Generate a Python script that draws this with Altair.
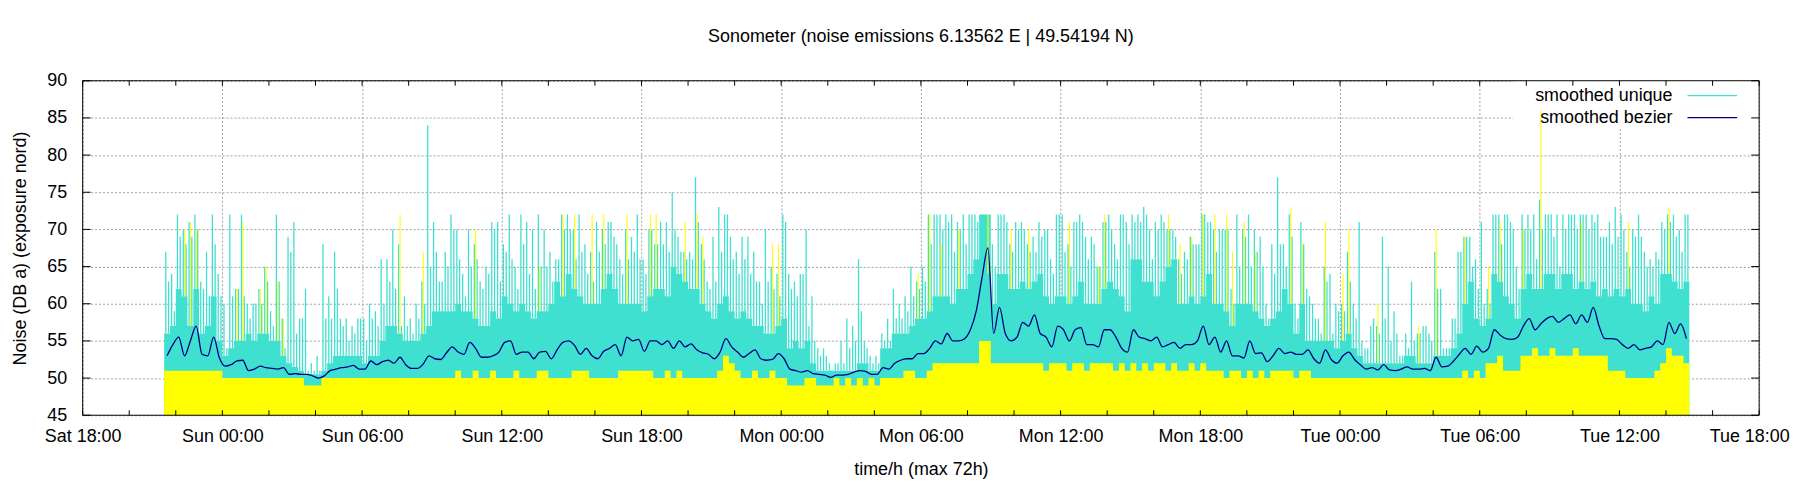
import json

import altair as alt
import pandas as pd

FONT = "Liberation Sans"
TURQUOISE = "#40e0d0"
YELLOW = "#ffff00"
NAVY = "#000080"

# hours after Sat 18:00, readings binned per 15 minutes from Sat 21:30 on
START_H = 3.5
STEP_H = 0.25

X_TICKS = [0, 6, 12, 18, 24, 30, 36, 42, 48, 54, 60, 66, 72]
X_LABELS = ["Sat 18:00", "Sun 00:00", "Sun 06:00", "Sun 12:00", "Sun 18:00",
            "Mon 00:00", "Mon 06:00", "Mon 12:00", "Mon 18:00",
            "Tue 00:00", "Tue 06:00", "Tue 12:00", "Tue 18:00"]
X_SMALL_TICKS = list(range(0, 73, 2))
Y_TICKS = [45, 50, 55, 60, 65, 70, 75, 80, 85, 90]

# smoothed unique: tallest impulse in each bin
unique_peak = [
    67, 64, 72, 70, 71, 72, 63, 67, 72, 64,
    60, 72, 62, 72, 60, 60, 62, 65, 59, 72, 58, 69, 71, 58, 62, 52, 53, 68, 61, 67, 58, 58, 57, 58,
    58, 60, 59, 66, 66, 70, 68, 61, 58, 60, 63, 84, 71, 63, 67, 72, 70, 64, 70, 68, 63, 65, 71, 71,
    68, 72, 65, 72, 71, 70, 72, 70, 67, 66, 72, 72, 70, 72, 68, 67, 71, 70, 71, 69, 66, 70, 69, 72,
    66, 70, 68, 71, 71, 75, 69, 67, 67, 77, 68, 63, 69, 73, 72, 69, 67, 69, 69, 67, 63, 70, 65, 64,
    72, 64, 63, 64, 70, 61, 54, 54, 52, 52, 55, 58, 57, 66, 55, 53, 53, 56, 58, 62, 60, 61, 65, 63,
    65, 72, 72, 72, 72, 72, 71, 72, 72, 72, 72, 72, 68, 72, 72, 68, 71, 71, 68, 69, 71, 70, 66, 72,
    72, 68, 71, 72, 69, 69, 65, 71, 72, 68, 72, 71, 72, 72, 73, 70, 71, 72, 70, 70, 66, 67, 69, 68,
    72, 71, 70, 70, 70, 62, 72, 70, 72, 70, 69, 60, 68, 77, 68, 72, 60, 71, 62, 60, 58, 65, 64, 60,
    60, 67, 60, 71, 54, 57, 57, 69, 65, 59, 53, 56, 63, 56, 57, 56, 67, 62, 54, 58, 67, 69, 69, 66,
    71, 62, 72, 72, 72, 71, 65, 72, 72, 72, 74, 72, 72, 72, 72, 72, 72, 72, 72, 72, 72, 69, 71, 73,
    72, 67, 70, 72, 67, 66, 67, 71, 72, 72, 70, 72,
]

# smoothed unique: next tallest impulse in each bin
unique_mid = [
    63, 59, 69, 68, 69, 70, 62, 61, 68, 61,
    54, 61, 62, 61, 58, 60, 60, 63, 57, 63, 54, 67, 56, 58, 51, 51, 51, 58, 58, 62, 57, 55, 56, 58,
    55, 58, 57, 60, 63, 62, 57, 57, 56, 58, 60, 65, 67, 63, 65, 70, 66, 61, 65, 66, 62, 64, 70, 63,
    67, 66, 62, 68, 64, 62, 65, 65, 63, 66, 70, 70, 66, 67, 64, 63, 67, 68, 71, 68, 64, 66, 67, 66,
    64, 70, 68, 68, 67, 70, 67, 66, 66, 71, 66, 62, 63, 67, 72, 66, 64, 66, 64, 63, 60, 63, 62, 61,
    71, 62, 61, 64, 57, 55, 53, 53, 51, 52, 52, 54, 55, 59, 54, 52, 52, 55, 55, 58, 58, 59, 61, 62,
    63, 68, 72, 70, 71, 67, 70, 68, 72, 71, 72, 72, 65, 72, 71, 67, 70, 70, 67, 67, 69, 70, 64, 72,
    67, 65, 71, 71, 66, 68, 65, 71, 70, 66, 72, 68, 71, 71, 72, 66, 70, 71, 70, 69, 64, 66, 68, 68,
    72, 71, 67, 70, 70, 60, 65, 69, 65, 67, 65, 58, 64, 68, 65, 69, 58, 68, 61, 58, 56, 63, 56, 59,
    59, 63, 58, 55, 54, 58, 56, 58, 55, 56, 53, 54, 55, 56, 57, 55, 62, 54, 54, 58, 67, 69, 65, 62,
    60, 60, 72, 68, 72, 70, 62, 70, 70, 66, 70, 72, 69, 65, 70, 72, 70, 72, 70, 71, 69, 69, 68, 69,
    70, 65, 69, 69, 65, 65, 66, 70, 71, 69, 67, 72,
]

# smoothed unique: level the impulses fill solidly
unique_fill = [
    56, 57, 62, 61, 57, 62, 56, 57, 61, 55,
    53, 54, 55, 55, 56, 55, 56, 56, 55, 55, 53, 52, 51.5, 51, 50.5, 50.5, 50.5, 51, 52, 53, 53, 53, 53, 53,
    52, 53, 53, 55, 57, 57, 56, 55, 55, 55, 56, 57, 59, 59, 59, 59, 60, 59, 59, 58, 57, 57, 59, 58,
    61, 60, 59, 60, 59, 58, 59, 59, 60, 63, 61, 64, 62, 61, 60, 60, 60, 62, 64, 62, 60, 60, 60, 60,
    59, 61, 62, 62, 61, 65, 64, 63, 62, 62, 60, 59, 58, 60, 61, 59, 58, 59, 58, 57, 57, 56, 56, 57,
    58, 54, 55, 54, 55, 52, 51, 51, 51, 51, 51, 51, 51, 52, 52, 51, 51, 54, 54, 56, 56, 56, 57, 58,
    58, 59, 61, 61, 61, 60, 62, 62, 64, 66, 72, 72, 60, 64, 64, 62, 62, 63, 62, 63, 64, 61, 60, 61,
    61, 60, 61, 63, 60, 60, 60, 62, 63, 62, 61, 59, 66, 66, 63, 63, 61, 63, 65, 66, 60, 60, 61, 60,
    61, 64, 60, 60, 59, 57, 60, 60, 60, 59, 58, 57, 58, 59, 62, 60, 56, 60, 55, 55, 55, 55, 55, 54,
    55, 56, 54, 53, 52, 52, 52, 52, 52, 52, 52, 53, 53, 52, 52, 52, 53, 53, 53, 54, 56, 60, 63, 58,
    57, 58, 64, 63, 61, 60, 58, 62, 64, 62, 62, 64, 64, 62, 64, 64, 62, 63, 62, 63, 61, 62, 61, 62,
    61, 62, 60, 60, 59, 61, 60, 64, 64, 63, 62, 63,
]

# raw readings (yellow): floor level per bin
raw_floor = [
    51, 51, 51, 51, 51, 51, 51, 51, 51, 51,
    50, 50, 50, 50, 50, 50, 50, 50, 50, 50, 50, 50, 50, 50, 49, 49, 49, 50, 50, 50, 50, 50, 50, 50,
    50, 50, 50, 50, 50, 50, 50, 50, 50, 50, 50, 50, 50, 50, 50, 50, 51, 50, 50, 51, 50, 50, 51, 50,
    50, 50, 51, 50, 50, 50, 51, 51, 50, 50, 50, 50, 51, 51, 51, 50, 50, 50, 50, 50, 51, 51, 51, 51,
    51, 51, 50, 50, 51, 50, 51, 50, 50, 50, 50, 50, 50, 51, 53, 52, 51, 50, 50, 51, 50, 50, 51, 50,
    50, 49, 49, 49, 50, 50, 49, 49, 49, 50, 49, 50, 49, 50, 49, 50, 49, 50, 50, 50, 50, 51, 51, 50,
    50, 51, 52, 52, 52, 52, 52, 52, 52, 52, 55, 55, 52, 52, 52, 52, 52, 52, 52, 52, 52, 51, 52, 52,
    52, 51, 52, 52, 51, 52, 52, 52, 52, 51, 52, 51, 52, 51, 52, 51, 52, 52, 51, 52, 51, 51, 52, 51,
    52, 51, 51, 51, 50, 51, 51, 50, 51, 50, 51, 50, 51, 51, 51, 51, 50, 51, 51, 50, 50, 50, 50, 50,
    50, 50, 50, 50, 50, 50, 50, 50, 50, 50, 50, 50, 50, 50, 50, 50, 50, 50, 50, 50, 50, 51, 50, 51,
    50, 52, 52, 53, 51, 51, 51, 53, 53, 54, 53, 53, 54, 53, 53, 53, 54, 53, 53, 53, 53, 53, 51, 51,
    51, 50, 50, 50, 50, 50, 51, 52, 54, 53, 53, 52,
]

# raw readings standing out above the turquoise: bin number and level
raw_tip_bin = [3, 4, 5, 12, 13, 16, 17, 19, 20, 40, 44, 53, 64, 68, 70, 73, 75, 79,
               83, 84, 89, 91, 92, 104, 105, 129, 131, 133, 136, 141, 145, 148,
               155, 160, 161, 172, 174, 176, 178, 180, 182, 183, 185, 187, 193, 195, 199,
               202, 203, 208, 215, 218, 223, 227, 229, 233, 236, 243, 251, 258]
raw_tip_db = [70, 71, 70, 62, 71, 62, 65, 63, 58, 72, 67, 70, 65, 72, 72, 72, 72, 72,
              72, 72, 71, 72, 69, 68, 68, 64, 72, 68, 70, 64, 70, 70,
              71, 65, 72, 72, 68, 69, 72, 72, 72, 67, 71, 67, 73, 68, 71,
              64, 70, 60, 57, 70, 69, 65, 71, 70, 86, 71, 71, 73]

# smoothed bezier
bezier = [
    53, 54.5, 55.5, 53, 55, 57, 53.2, 53, 55.5, 52.7,
    51.6, 51.8, 52.3, 52.4, 51, 51.2, 51.6, 51.4, 51.3, 51.2, 51.4, 50.5, 50.6, 50.5, 50.5, 50.3, 50, 50.3, 51, 51.2, 51.4, 51.5, 51.7, 51.2,
    51.2, 52.3, 51.8, 52.2, 52.4, 52, 52.8, 51.8, 51.3, 51.3, 51.9, 53, 52.6, 52.5, 53.4, 54.2, 53.5, 53.2, 54.8, 54, 52.8, 52.8, 53, 53.5,
    54.8, 55, 53.2, 53.5, 53.5, 52.6, 53.5, 53.6, 52.6, 53.8, 54.8, 55, 54.4, 53.2, 54, 53, 52.6, 53.6, 54, 54.5, 53, 55.5, 55, 55.2,
    53.6, 55, 55, 54.5, 55, 54, 55, 54.2, 54.6, 53.8, 53.4, 53.2, 52.6, 53.5, 55.3, 54.2, 53.5, 52.8, 53.3, 53.8, 52.6, 52.4, 52.5, 53.3,
    52.6, 51.2, 51, 50.8, 51, 50.6, 50.5, 50.4, 50.1, 50.4, 50.4, 50.5, 50.8, 51, 50.9, 50.5, 50.5, 51.4, 51.2, 52, 52.4, 52.6, 52.6, 53.3,
    53.3, 54, 55, 54.6, 56, 55, 55, 55.3, 56.5, 59, 63.5, 67.5, 56, 59.5, 56, 55, 55.5, 57.5, 57, 58.5, 56, 55.5, 54.2, 57,
    56.5, 55, 56.5, 56.8, 54.5, 54.5, 54.2, 56.5, 56.5, 55.5, 54, 53.5, 56.5, 55.5, 55.3, 55, 55.5, 54.2, 54.5, 54.8, 54, 54.5, 54.5, 55,
    57, 54.5, 55.5, 53.5, 55, 53, 53, 52.7, 55, 53.3, 53.4, 52.2, 53, 54, 53.3, 53.5, 53.2, 53.2, 53.8, 52.6, 52, 53.8, 52.5, 52,
    53, 53.5, 52.5, 51.8, 51.2, 51.4, 51.1, 51.8, 51.1, 51, 51.2, 51.5, 51.2, 51.2, 51.3, 51, 52.8, 51.5, 51.6, 52.3, 53.2, 54, 53.2, 54.3,
    53.5, 54, 56.5, 55.8, 55.3, 55.2, 55.5, 57, 58, 56.5, 57.3, 58, 58.3, 57.5, 58, 58.5, 57.3, 58.5, 57.5, 59.5, 57, 55.3, 55.3, 55.2,
    54.5, 54, 54.5, 53.8, 54, 54.2, 55, 54.5, 57.5, 56, 57.3, 55.3,
]

n = len(unique_peak)
t = [START_H + STEP_H * i for i in range(n)]
bins = pd.DataFrame({
    "t": t,
    "tc": [v + STEP_H / 2 for v in t],
    "tp": [v + 0.07 for v in t],
    "tm": [v + 0.19 for v in t],
    "peak": unique_peak,
    "mid": unique_mid,
    "fill": unique_fill,
    "floor": raw_floor,
    "bezier": bezier,
})
# one closing point so the last step keeps its width
steps = pd.concat([bins[["t", "fill", "floor"]],
                   pd.DataFrame({"t": [t[-1] + STEP_H], "fill": [unique_fill[-1]],
                                 "floor": [raw_floor[-1]]})], ignore_index=True)
tips = pd.DataFrame({
    "tc": [START_H + STEP_H * b + 0.13 for b in raw_tip_bin],
    "tip": raw_tip_db,
    "fill": [unique_fill[b] for b in raw_tip_bin],
})

x_scale = alt.Scale(domain=[0, 72], nice=False, zero=False)
y_scale = alt.Scale(domain=[45, 90], nice=False, zero=False)

x_axis = alt.Axis(
    values=X_TICKS, labelExpr=f"{json.dumps(X_LABELS)}[round(datum.value / 6)]",
    grid=True, gridColor="#a0a0a0", gridDash=[2, 2], gridWidth=1,
    ticks=False, tickSize=0, domain=False, labelFlush=False, labelOverlap=False,
    labelFontSize=18, labelPadding=12, labelColor="black", labelAngle=0,
    # last label pulled in a little so it stays on the page
    labelOffset=alt.condition("datum.value == 72", alt.value(-10), alt.value(0)),
    title="time/h (max 72h)", titleFontSize=18, titleFontWeight="normal", titleColor="black",
    titleX=842, titleY=55, titleBaseline="middle", titleAlign="center",
)
y_axis = alt.Axis(
    values=Y_TICKS, format="d",
    grid=True, gridColor="#a0a0a0", gridDash=[2, 2], gridWidth=1,
    ticks=False, tickSize=0, domain=False, labelFlush=False, labelOverlap=False,
    labelFontSize=18, labelPadding=16, labelColor="black",
    title="Noise (DB a) (exposure nord)", titleFontSize=18, titleFontWeight="normal", titleColor="black",
    titleX=-62, titleY=168, titleAngle=270, titleBaseline="middle", titleAlign="center",
)


def X(field):
    return alt.X(f"{field}:Q", scale=x_scale, axis=x_axis)


def Y(field):
    return alt.Y(f"{field}:Q", scale=y_scale, axis=y_axis)


one = pd.DataFrame({"k": [0]})

# opaque box behind the key
key_box = alt.Chart(one).mark_rect(color="white").encode(
    x=alt.value(1437), x2=alt.value(1684), y=alt.value(0), y2=alt.value(47))

body = alt.Chart(steps).mark_area(interpolate="step-after", color=TURQUOISE).encode(
    x=X("t"), y=Y("fill"), y2=alt.datum(45))
spikes = alt.Chart(bins).mark_rule(color=TURQUOISE, strokeWidth=1.3).encode(
    x=X("tp"), y=Y("peak"), y2="fill:Q")
spikes2 = alt.Chart(bins).mark_rule(color=TURQUOISE, strokeWidth=1.3).encode(
    x=X("tm"), y=Y("mid"), y2="fill:Q")
floor = alt.Chart(steps).mark_area(interpolate="step-after", color=YELLOW).encode(
    x=X("t"), y=Y("floor"), y2=alt.datum(45))
raw_tips = alt.Chart(tips).mark_rule(color=YELLOW, strokeWidth=1.1).encode(
    x=X("tc"), y=Y("tip"), y2="fill:Q")
smooth = alt.Chart(bins).mark_line(color=NAVY, strokeWidth=1.3, interpolate="monotone").encode(
    x=X("tc"), y=Y("bezier"))

# border and inward ticks, gnuplot style
hborder = alt.Chart(pd.DataFrame({"v": [45, 90]})).mark_rule(color="black").encode(y=Y("v"))
vborder = alt.Chart(pd.DataFrame({"h": [0, 72]})).mark_rule(color="black").encode(x=X("h"))
yt = pd.DataFrame({"v": Y_TICKS})
ytick_l = alt.Chart(yt).mark_rule(color="black").encode(y=Y("v"), x=alt.value(0), x2=alt.value(8))
ytick_r = alt.Chart(yt).mark_rule(color="black").encode(y=Y("v"), x=alt.value(1676), x2=alt.value(1684))
xt = pd.DataFrame({"h": X_SMALL_TICKS})
xtick_b = alt.Chart(xt).mark_rule(color="black").encode(x=X("h"), y=alt.value(336), y2=alt.value(331))
xtick_t = alt.Chart(xt).mark_rule(color="black").encode(x=X("h"), y=alt.value(0), y2=alt.value(5))

key_layers = []
for row, (label, colour) in enumerate([("smoothed unique", TURQUOISE), ("smoothed bezier", NAVY)]):
    ypix = 15 + 22 * row
    d = pd.DataFrame({"label": [label]})
    key_layers.append(alt.Chart(d).mark_text(align="right", baseline="middle", fontSize=18,
                                             color="black", font=FONT).encode(
        text="label:N", x=alt.value(1597), y=alt.value(ypix)))
    key_layers.append(alt.Chart(d).mark_rule(color=colour, strokeWidth=1.3).encode(
        x=alt.value(1612), x2=alt.value(1662), y=alt.value(ypix)))

chart = alt.layer(
    key_box, body, spikes, spikes2, floor, raw_tips, smooth,
    hborder, vborder, ytick_l, ytick_r, xtick_b, xtick_t, *key_layers,
).properties(
    width=1684, height=336,
    title=alt.TitleParams("Sonometer (noise emissions 6.13562 E | 49.54194 N)",
                          fontSize=18, fontWeight="normal", anchor="middle", offset=26,
                          color="black", font=FONT),
    autosize=alt.AutoSizeParams(type="none"),
    padding={"left": 75, "top": 72, "right": 33, "bottom": 70},
).configure_view(stroke=None).configure_axis(labelFont=FONT, titleFont=FONT)

chart.save("out.html", embed_options={"renderer": "svg", "actions": False})
